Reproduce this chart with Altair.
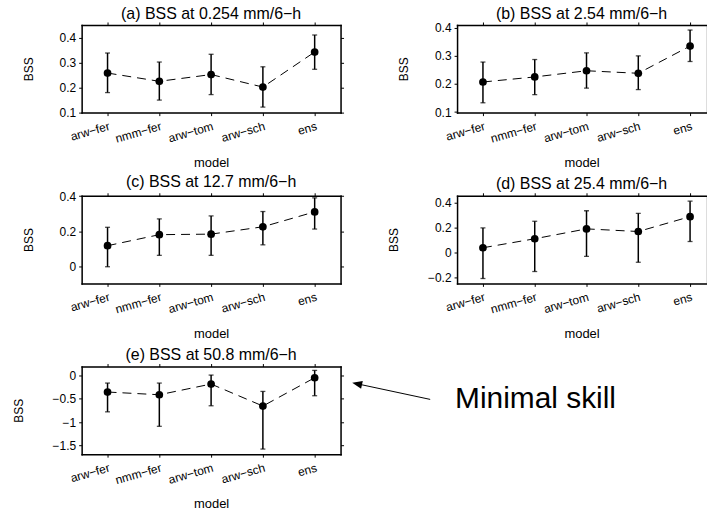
import altair as alt
import pandas as pd

models = ["arw-fer", "nmm-fer", "arw-tom", "arw-sch", "ens"]

a_bss = [0.258, 0.225, 0.252, 0.202, 0.342]
a_lo = [0.180, 0.150, 0.172, 0.122, 0.273]
a_hi = [0.338, 0.302, 0.333, 0.283, 0.410]

b_bss = [0.207, 0.225, 0.247, 0.238, 0.335]
b_lo = [0.133, 0.162, 0.185, 0.180, 0.280]
b_hi = [0.278, 0.287, 0.311, 0.300, 0.392]

c_bss = [0.117, 0.180, 0.183, 0.225, 0.310]
c_lo = [-0.003, 0.062, 0.062, 0.122, 0.212]
c_hi = [0.222, 0.270, 0.287, 0.312, 0.390]

d_bss = [0.037, 0.109, 0.188, 0.167, 0.286]
d_lo = [-0.209, -0.153, -0.032, -0.079, 0.087]
d_hi = [0.196, 0.249, 0.333, 0.312, 0.410]

e_bss = [-0.356, -0.414, -0.185, -0.656, -0.050]
e_lo = [-0.780, -1.090, -0.650, -1.577, -0.435]
e_hi = [-0.164, -0.164, 0.007, -0.343, 0.107]

titles = [
    "(a) BSS at 0.254 mm/6\u2212h",
    "(b) BSS at 2.54 mm/6\u2212h",
    "(c) BSS at 12.7 mm/6\u2212h",
    "(d) BSS at 25.4 mm/6\u2212h",
    "(e) BSS at 50.8 mm/6\u2212h",
]
y_domains = [[0.1, 0.45], [0.098, 0.41], [-0.098, 0.402], [-0.248, 0.453], [-1.686, 0.19]]
y_ticks = [[0.1, 0.2, 0.3, 0.4], [0.1, 0.2, 0.3, 0.4], [0, 0.2, 0.4],
           [-0.2, 0, 0.2, 0.4], [-1.5, -1, -0.5, 0]]

annotation = ["Minimal skill"]

FONT = "Liberation Sans"
H = 88


def panel(title, bss, lo, hi, ydom, yticks, left_col, yext, extra=None):
    df = pd.DataFrame({"model": models, "bss": bss, "lo": lo, "hi": hi})
    if left_col:
        width = 260
        xsc = alt.Scale(type="point", domain=models, padding=0.5, align=0.5)
    else:
        width = 250
        xsc = alt.Scale(type="point", domain=models, padding=0.40385, align=0.619)
    ysc = alt.Scale(domain=ydom, nice=False, zero=False)
    common = dict(domainColor="black", domainWidth=1.5, domainCap="square",
                  tickColor="black", tickWidth=1, tickSize=3, grid=False,
                  labelFont=FONT, titleFont=FONT, labelColor="black", titleColor="black")
    xax = alt.Axis(orient="bottom", labelAngle=344, labelAlign="right", labelBaseline="top",
                   labelPadding=5, labelFontSize=12, title="model", titleFontSize=13,
                   titleFontWeight="normal", titlePadding=9, minExtent=35, maxExtent=35,
                   labelExpr="replace(datum.label, '-', '\u2212')", **common)
    yax = alt.Axis(orient="left", values=yticks, format="~g", labelPadding=3, labelFontSize=12,
                   title="BSS", titleFontSize=12, titleFontWeight="normal", titlePadding=10,
                   minExtent=yext, maxExtent=yext, **common)
    x = alt.X("model:N", sort=models, scale=xsc, axis=xax)
    base = alt.Chart(df)
    rule = base.mark_rule(strokeWidth=1.5, color="black").encode(
        x=x, y=alt.Y("lo:Q", scale=ysc, axis=yax), y2="hi:Q")
    cap_lo = base.mark_tick(orient="horizontal", size=5, thickness=1.3, color="black").encode(
        x=x, y=alt.Y("lo:Q", scale=ysc, axis=yax))
    cap_hi = base.mark_tick(orient="horizontal", size=5, thickness=1.3, color="black").encode(
        x=x, y=alt.Y("hi:Q", scale=ysc, axis=yax))
    line = base.mark_line(strokeDash=[9, 6], strokeWidth=1, color="black").encode(
        x=x, y=alt.Y("bss:Q", scale=ysc, axis=yax))
    pts = base.mark_point(filled=True, size=60, color="black", opacity=1).encode(
        x=x, y=alt.Y("bss:Q", scale=ysc, axis=yax))
    main = alt.layer(rule, cap_lo, cap_hi, line, pts)

    top_ax = alt.Axis(orient="top", labels=False, title=None, **common)
    if left_col:
        right_ax = alt.Axis(orient="right", values=yticks, labels=False, title=None, **common)
    else:
        right_ax = None
    frame = base.mark_point(opacity=0).encode(
        x=alt.X("model:N", sort=models, scale=xsc, axis=top_ax),
        y=alt.Y("bss:Q", scale=ysc, axis=right_ax),
    )
    layers = [main, frame] + (extra or [])
    return alt.layer(*layers).resolve_axis(x="independent", y="independent").properties(
        width=width, height=H,
        title=alt.TitleParams(title, font=FONT, fontSize=16, fontWeight="normal",
                              color="black", offset=0, anchor="middle"),
    )


ann_df = pd.DataFrame({"label": annotation})
ann_text = alt.Chart(ann_df).mark_text(
    align="left", baseline="alphabetic", fontSize=30, font=FONT, color="black"
).encode(text="label:N", x=alt.value(375), y=alt.value(41.5))
ann_line = alt.Chart(ann_df).mark_rule(color="black", strokeWidth=1).encode(
    x=alt.value(350), y=alt.value(33), x2=alt.value(277), y2=alt.value(17.4))
ann_head = alt.Chart(ann_df).mark_point(
    shape="M-1,0L1,-0.8L1,0.8Z", filled=True, color="black", opacity=1, size=100, angle=12.3
).encode(x=alt.value(276.6), y=alt.value(17.4))

pa = panel(titles[0], a_bss, a_lo, a_hi, y_domains[0], y_ticks[0], True, 36.5)
pb = panel(titles[1], b_bss, b_lo, b_hi, y_domains[1], y_ticks[1], False, 36.5)
pc = panel(titles[2], c_bss, c_lo, c_hi, y_domains[2], y_ticks[2], True, 36.5)
pd_ = panel(titles[3], d_bss, d_lo, d_hi, y_domains[3], y_ticks[3], False, 46.5)
pe = panel(titles[4], e_bss, e_lo, e_hi, y_domains[4], y_ticks[4], True, 46.5,
           extra=[ann_line, ann_head, ann_text])

chart = alt.concat(
    pa, pb, pc, pd_, pe, columns=2, bounds="flush",
    spacing={"row": 83.5, "column": 117},
).properties(
    padding={"left": 12, "top": 4, "right": 0, "bottom": 0}
).configure_view(stroke=None).configure(font=FONT, background="white")

chart.save("out.html", embed_options={"renderer": "svg", "actions": False})
